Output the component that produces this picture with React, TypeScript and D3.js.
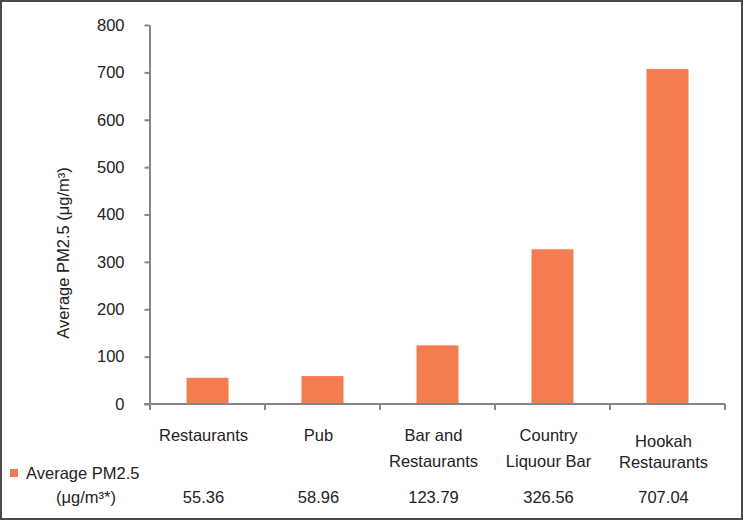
import React from "react";
import * as d3 from "d3";

const categories = ["Restaurants", "Pub", "Bar and Restaurants", "Country Liquour Bar", "Hookah Restaurants"];
const labelLines = [["Restaurants"], ["Pub"], ["Bar and", "Restaurants"], ["Country", "Liquour Bar"], ["Hookah", "Restaurants"]];
const values = [55.36, 58.96, 123.79, 326.56, 707.04];
const valueLabels = ["55.36", "58.96", "123.79", "326.56", "707.04"];
const yTicks = [0, 100, 200, 300, 400, 500, 600, 700, 800];
const seriesName = "Average PM2.5";

const W = 743,
  H = 520;
const barColor = "#F47C4E";
const axisColor = "#868686";
const textColor = "#222";
const font = "'Liberation Sans', Arial, sans-serif";
const fs = 16.5;

const App = () => {
  const ref = React.useRef<SVGSVGElement>(null);

  React.useEffect(() => {
    const svg = d3.select(ref.current);
    svg.selectAll("*").remove();

    const y = d3.scaleLinear().domain([0, 800]).range([404, 25]);
    const x = d3.scaleBand().domain(categories).range([150, 725]).padding(0);
    const barW = 42;

    svg
      .append("rect")
      .attr("x", 1)
      .attr("y", 1)
      .attr("width", W - 2)
      .attr("height", H - 2)
      .attr("fill", "#fff")
      .attr("stroke", "#4a4a4a")
      .attr("stroke-width", 2);

    // bars
    svg
      .append("g")
      .selectAll("rect")
      .data(values)
      .join("rect")
      .attr("x", (d, i) => x(categories[i])! + (x.bandwidth() - barW) / 2)
      .attr("y", (d) => y(d))
      .attr("width", barW)
      .attr("height", (d) => y(0) - y(d))
      .attr("fill", barColor);

    // y axis
    const ya = svg
      .append("g")
      .attr("transform", "translate(149.5,0)")
      .call(d3.axisLeft(y).tickValues(yTicks).tickSize(5).tickPadding(20).tickSizeOuter(0));
    ya.select(".domain").attr("stroke", axisColor).attr("stroke-width", 2);
    ya.selectAll(".tick line").attr("stroke", axisColor).attr("stroke-width", 2);
    ya.selectAll(".tick text")
      .attr("font-family", font)
      .attr("font-size", fs)
      .attr("fill", textColor);

    // x axis
    const xa = svg.append("g").attr("transform", `translate(0,${y(0)})`);
    xa.append("line")
      .attr("x1", 144)
      .attr("x2", 725)
      .attr("stroke", axisColor)
      .attr("stroke-width", 2);
    xa.selectAll("line.tk")
      .data([...categories.map((c) => x(c)!), 725])
      .join("line")
      .attr("class", "tk")
      .attr("x1", (d) => d)
      .attr("x2", (d) => d)
      .attr("y1", 0)
      .attr("y2", 6)
      .attr("stroke", axisColor)
      .attr("stroke-width", 2);

    // category labels + value row
    const lab = svg
      .append("g")
      .attr("font-family", font)
      .attr("font-size", fs)
      .attr("fill", textColor)
      .attr("text-anchor", "middle");
    labelLines.forEach((lines, i) => {
      const cx = x(categories[i])! + x.bandwidth() / 2 - 4;
      const top = i === 4 ? 441 : 435;
      const gap = i === 4 ? 21 : 26;
      lines.forEach((t, j) => {
        lab
          .append("text")
          .attr("x", cx)
          .attr("y", top + j * gap)
          .attr("dy", "0.35em")
          .text(t);
      });
      lab
        .append("text")
        .attr("x", cx)
        .attr("y", 497)
        .attr("dy", "0.35em")
        .text(valueLabels[i]);
    });

    // legend
    svg.append("rect").attr("x", 10).attr("y", 469).attr("width", 8).attr("height", 8).attr("fill", barColor);
    lab.append("text").attr("x", 26).attr("y", 473).attr("dy", "0.35em").attr("text-anchor", "start").text(seriesName);
    lab.append("text").attr("x", 86).attr("y", 497).attr("dy", "0.35em").text("(μg/m³*)");

    // y title
    svg
      .append("text")
      .attr("transform", "translate(63,253) rotate(-90)")
      .attr("text-anchor", "middle")
      .attr("dy", "0.35em")
      .attr("font-family", font)
      .attr("font-size", fs)
      .attr("fill", textColor)
      .text("Average PM2.5 (μg/m³)");
  }, []);

  return (
    <svg
      ref={ref}
      width={W}
      height={H}
      style={{ position: "absolute", left: 0, top: 0, display: "block" }}
    />
  );
};

export default App;
